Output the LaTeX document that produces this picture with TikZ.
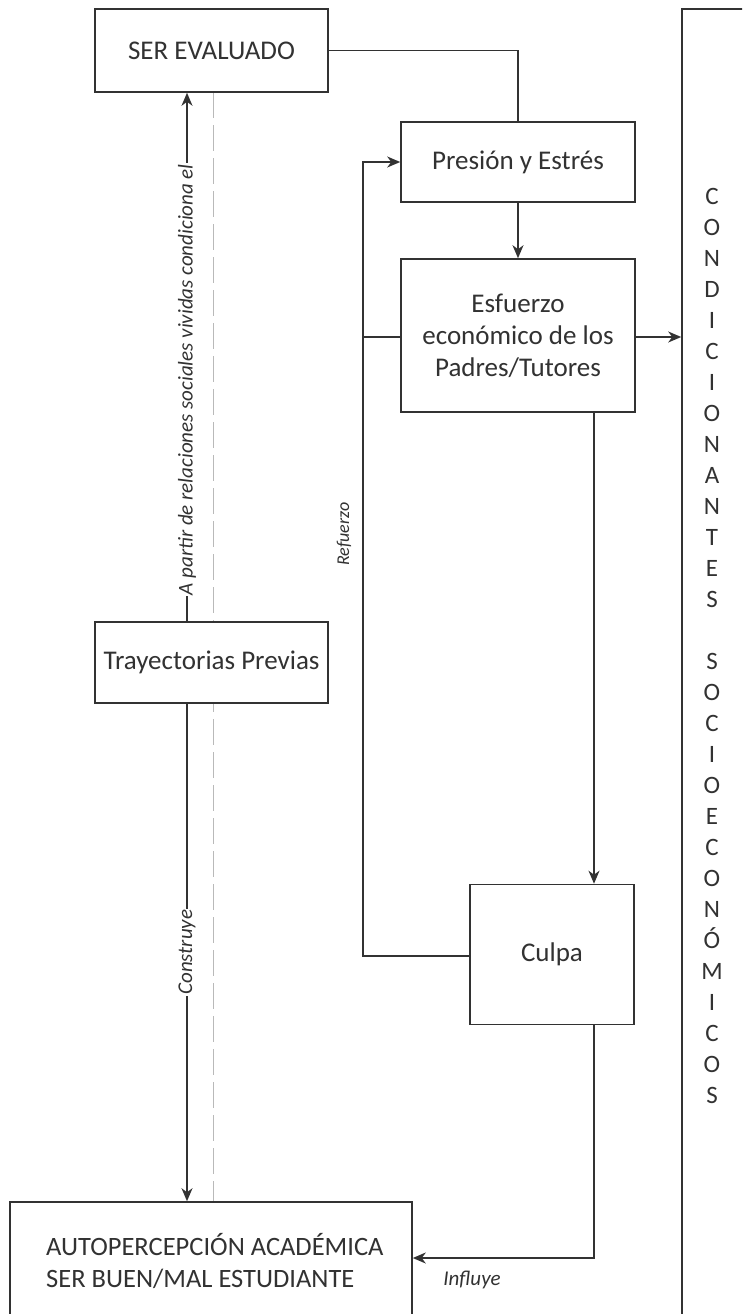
\documentclass[tikz,border=0pt]{standalone}
\usepackage{fontspec}
\setmainfont{Carlito}
\usetikzlibrary{arrows.meta,calc}
\definecolor{ink}{RGB}{50,50,50}
\begin{document}
\begin{tikzpicture}[x=1pt,y=-1pt,
 box/.style={draw=ink, line width=1.6pt, fill=white, text=ink, font=\fontsize{27}{32}\selectfont, align=center, inner sep=0pt},
 plain/.style={text=ink, font=\fontsize{26.5}{32}\selectfont, inner sep=0pt},
 lbl/.style={text=ink, font=\fontsize{21}{22}\selectfont\itshape, inner sep=1pt},
 arr/.style={draw=ink, line width=1.5pt, -{Stealth[length=13pt,width=11pt,inset=4pt]}},
 ln/.style={draw=ink, line width=1.5pt},
 guide/.style={draw=gray!55, line width=1pt, dash pattern=on 26pt off 7pt}]
\useasboundingbox (0,0) rectangle (742,1314);
\clip (0,0) rectangle (742,1314);
\fill[white] (0,0) rectangle (742,1314);

% dashed guide line (drawn first, hidden behind Trayectorias)
\coordinate (g1) at (213,92);
\coordinate (g2) at (213,1202);
\draw[guide] (g1) -- (g2);

% boxes
\node[box, minimum width=233pt, minimum height=83pt] (ser) at (211.5,50.5) {SER EVALUADO};
\node[box, minimum width=233pt, minimum height=81pt] (tra) at (211.5,662.5) {Trayectorias Previas};
\node[box, minimum width=402pt, minimum height=150pt] (auto) at (211,1277) {};
\node[plain, anchor=west, align=left] (autotxt) at (46,1261) {AUTOPERCEPCIÓN ACADÉMICA\\SER BUEN/MAL ESTUDIANTE};
\node[box, minimum width=234pt, minimum height=80pt] (pres) at (518,162) {Presión y Estrés};
\node[box, minimum width=234pt, minimum height=153pt] (esf) at (518,335.5) {Esfuerzo\\económico de los\\Padres/Tutores};
\node[box, minimum width=164pt, minimum height=140pt] (culpa) at (552,954.5) {Culpa};
\node[draw=ink, line width=1.6pt, minimum width=100pt, minimum height=1340pt] (cond) at (732,679) {};
\node[text=ink, font=\fontsize{25}{31}\selectfont, align=center, inner sep=0pt] (condtxt) at (712,646)
 {C\\O\\N\\D\\I\\C\\I\\O\\N\\A\\N\\T\\E\\S\\[31pt]S\\O\\C\\I\\O\\E\\C\\O\\N\\Ó\\M\\I\\C\\O\\S};

% connectors
\coordinate (t1) at (187,622);
\coordinate (t2) at (187,703);
\draw[arr] (t1) -- (t1 |- ser.south)
  node[lbl, pos=0.458, rotate=90, fill=white] (lblA) {A partir de relaciones sociales vividas condiciona el};
\draw[arr] (t2) -- (t2 |- auto.north)
  node[lbl, pos=0.5, rotate=90, fill=white] (lblC) {Construye};

\draw[ln] (ser.east) -| (pres.north);
\draw[arr] (pres.south) -- (esf.north);
\draw[arr] (esf.east |- 0,337) -- (cond.west |- 0,337);

\coordinate (lp) at (363,956);
\draw[arr] (culpa.west |- lp) -- (lp) -- (lp |- pres.west) -- (pres.west);
\draw[ln] (esf.west |- 0,337) -- (lp |- 0,337);
\node[lbl, font=\fontsize{18}{20}\selectfont\itshape, rotate=90] (refz) at (344,534) {Refuerzo};

\coordinate (e1) at (594,412);
\draw[arr] (e1) -- (e1 |- culpa.north);
\coordinate (c1) at (594,1024.5);
\draw[arr] (c1) -- (594,1258) -- (auto.east |- 0,1258);
\node[lbl] (infl) at (472,1280) {Influye};
\end{tikzpicture}
\end{document}
